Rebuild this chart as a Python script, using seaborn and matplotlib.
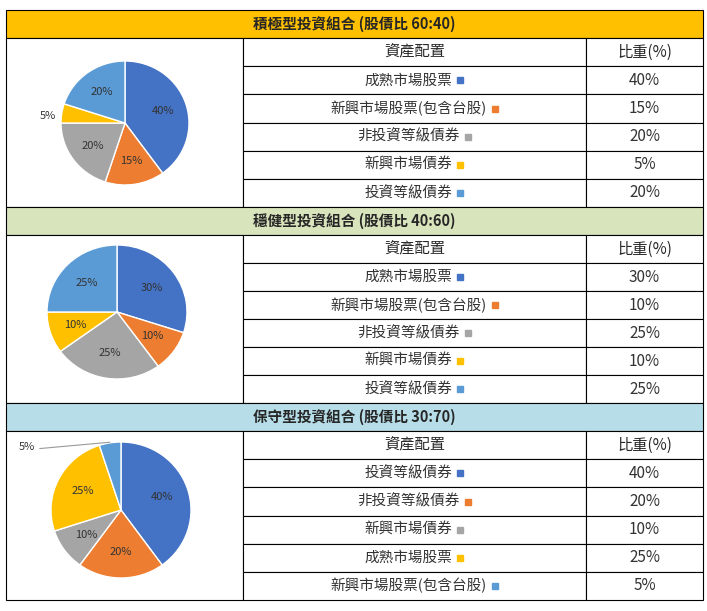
import matplotlib
matplotlib.use("Agg")
import matplotlib.pyplot as plt
import seaborn as sns
from matplotlib.patches import Rectangle

sns.set_theme(style="white")
plt.rcParams["font.family"] = "Noto Sans CJK TC"

titles = ["積極型投資組合 (股債比 60:40)", "穩健型投資組合 (股債比 40:60)", "保守型投資組合 (股債比 30:70)"]
header_colors = ["#FFC000", "#D8E4BC", "#B7DEE8"]
cats1 = ["成熟市場股票", "新興市場股票(包含台股)", "非投資等級債券", "新興市場債券", "投資等級債券"]
vals1 = [40, 15, 20, 5, 20]
cats2 = ["成熟市場股票", "新興市場股票(包含台股)", "非投資等級債券", "新興市場債券", "投資等級債券"]
vals2 = [30, 10, 25, 10, 25]
cats3 = ["投資等級債券", "非投資等級債券", "新興市場債券", "成熟市場股票", "新興市場股票(包含台股)"]
vals3 = [40, 20, 10, 25, 5]
colors = ["#4472C4", "#ED7D31", "#A5A5A5", "#FFC000", "#5B9BD5"]

W, H = 707, 611
fig = plt.figure(figsize=(W/100, H/100), dpi=100)
ax = fig.add_axes([0, 0, 1, 1])
ax.set_xlim(0, W); ax.set_ylim(H, 0); ax.axis("off")
renderer = fig.canvas.get_renderer()

x0, x1, x2, x3 = 6, 243, 586, 703
tops = [10, 207, 403]
bots = [207, 403, 600]
pie_centers = [(125, 123, 64, 62), (117, 312, 70, 67), (121, 510, 70, 68)]
data = [(cats1, vals1), (cats2, vals2), (cats3, vals3)]

for s in range(3):
    t, b = tops[s], bots[s]
    rh = (b - t) / 7
    ax.add_patch(Rectangle((x0, t), x3-x0, rh, facecolor=header_colors[s], edgecolor="black", lw=0.8))
    ax.text((x0+x3)/2, t+rh/2, titles[s], ha="center", va="center", fontsize=10.5, fontweight="bold")
    ax.add_patch(Rectangle((x0, t+rh), x1-x0, b-t-rh, facecolor="white", edgecolor="black", lw=0.8))
    cats, vals = data[s]
    for r in range(6):
        yt = t + rh*(r+1)
        ax.add_patch(Rectangle((x1, yt), x2-x1, rh, facecolor="white", edgecolor="black", lw=0.8))
        ax.add_patch(Rectangle((x2, yt), x3-x2, rh, facecolor="white", edgecolor="black", lw=0.8))
        yc = yt + rh/2
        if r == 0:
            ax.text((x1+x2)/2, yc, "資產配置", ha="center", va="center", fontsize=11)
            ax.text((x2+x3)/2, yc, "比重(%)", ha="center", va="center", fontsize=11)
        else:
            txt = ax.text((x1+x2)/2 - 6, yc, cats[r-1], ha="center", va="center", fontsize=10.5, color="#333333")
            bb = txt.get_window_extent(renderer)
            ax.plot([bb.x1 + 8], [yc], marker="s", ms=4, color=colors[r-1], ls="none")
            ax.text((x2+x3)/2, yc, f"{vals[r-1]}%", ha="center", va="center", fontsize=11, color="#333333")
    cx, cy, rx, ry = pie_centers[s]
    pax = fig.add_axes([(cx-rx)/W, 1-(cy+ry)/H, 2*rx/W, 2*ry/H])
    wedges, texts = pax.pie(vals, colors=colors, startangle=90, counterclock=False,
                            labels=[f"{v}%" for v in vals], labeldistance=0.62,
                            wedgeprops=dict(edgecolor="white", linewidth=1),
                            textprops=dict(fontsize=8, color="#333333", ha="center", va="center"))
    pax.set_aspect("auto")
    pax.set_xlim(-1, 1); pax.set_ylim(-1, 1)
    pax.axis("off")
    if s == 0:
        texts[3].set_position((-1.2, 0.12))
    if s == 2:
        texts[4].set_position((-1.35, 0.92))
        pax.annotate("", xy=(-0.12, 1.0), xytext=(-1.2, 0.9),
                     arrowprops=dict(arrowstyle="-", color="#999999", lw=0.8), annotation_clip=False)

fig.savefig("out.png", dpi=100)
